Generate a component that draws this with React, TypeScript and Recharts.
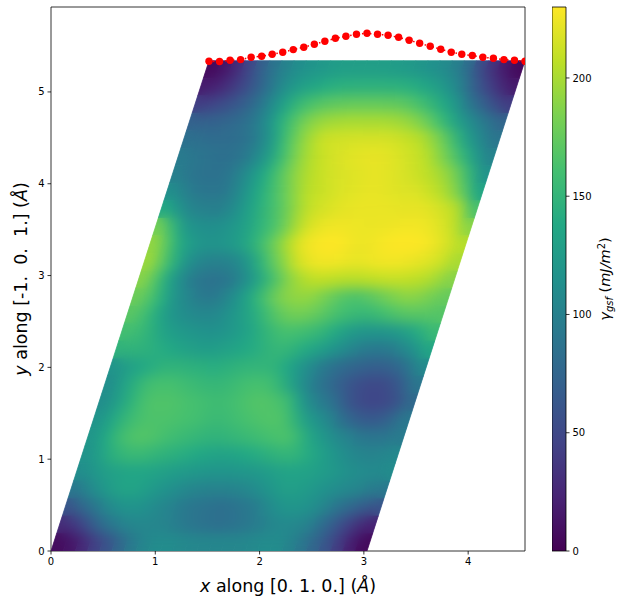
import React from "react";
import { ScatterChart, Scatter, XAxis, YAxis, ReferenceLine, BarChart, Bar } from "recharts";

const FONT = "DejaVu Sans";
const xTicks = [0, 1, 2, 3, 4];
const yTicks = [0, 1, 2, 3, 4, 5];
const cbarTicks = [0, 50, 100, 150, 200];
const xMax = 4.545;
const yMax = 5.925;
const gsfMax = 230;
const cellA = 3.03;
const cellB = 5.34;
const cellShift = 1.515;
const viridis = ["#440154", "#482475", "#414487", "#355f8d", "#2a788e", "#21918c", "#22a884", "#44bf70", "#7ad151", "#bddf26", "#fde725"];

// Stacking-fault energy: top row first, left to right along the slanted cell
const gsfRows = [
  [6,14,28,48,70,88,102,112,118,122,126,128,128,128,128,126,124,120,116,110,100,84,55,35,18,6],
  [18,24,36,50,65,85,105,120,130,137,142,145,146,146,146,146,145,142,136,128,115,98,70,50,32,18],
  [42,48,55,64,75,92,112,135,152,163,170,173,175,176,176,175,174,170,162,150,138,120,95,75,58,42],
  [72,72,74,78,84,95,115,142,165,182,192,197,199,200,200,200,199,196,190,178,162,142,122,105,90,76],
  [85,84,82,82,84,90,105,130,162,185,200,212,214,215,216,216,216,214,210,205,192,175,150,125,105,90],
  [95,90,87,85,86,92,108,128,155,180,198,208,214,218,220,222,222,220,216,212,205,190,172,150,125,103],
  [98,90,87,86,90,100,118,138,160,180,196,206,212,216,218,220,222,221,218,215,210,204,194,178,150,118],
  [112,100,92,90,90,100,118,138,155,172,190,205,210,214,218,220,222,222,220,218,218,212,205,192,170,135],
  [138,118,103,100,98,104,118,135,150,165,182,200,212,216,220,222,223,223,223,222,222,222,218,212,203,165],
  [180,150,122,115,112,115,122,132,146,160,176,198,215,222,225,225,224,224,224,225,226,226,224,218,210,190],
  [192,168,140,125,118,118,122,130,145,165,185,205,222,228,231,230,226,224,226,229,231,231,229,224,216,205],
  [195,172,145,118,105,100,100,105,120,145,170,190,212,222,226,226,224,222,224,226,226,225,222,218,212,200],
  [188,165,135,110,95,88,87,92,105,125,148,170,190,202,208,208,206,205,206,208,210,210,208,205,198,188],
  [178,165,142,118,105,95,92,100,115,135,155,175,188,192,192,185,175,167,165,170,178,185,190,188,182,175],
  [170,158,140,122,112,108,105,108,118,128,142,158,172,180,180,175,168,160,155,152,155,162,168,170,170,168],
  [160,155,145,132,125,120,117,115,118,125,133,145,155,162,160,156,150,140,128,120,118,118,122,130,142,155],
  [148,148,146,143,138,132,128,126,128,132,137,142,148,152,148,140,132,122,112,102,95,93,95,103,115,135],
  [118,128,136,143,148,148,146,145,143,145,148,150,150,148,138,122,108,95,85,78,74,70,70,75,88,108],
  [112,130,145,158,162,162,158,155,152,152,155,160,162,160,148,128,108,92,80,68,58,52,50,55,68,90],
  [112,128,145,160,166,166,165,162,160,157,158,162,166,168,165,158,130,105,95,82,62,52,48,50,58,78],
  [118,135,150,160,165,165,164,162,160,156,155,158,162,165,167,166,150,128,115,102,85,72,65,66,75,92],
  [120,138,155,165,168,165,160,156,153,150,148,150,153,156,160,163,165,150,132,120,108,100,92,90,90,95],
  [118,130,145,152,155,152,148,145,142,138,134,132,134,138,142,146,150,150,142,132,122,112,105,102,103,108],
  [112,120,128,132,135,135,132,128,125,122,120,118,118,120,121,125,130,133,132,130,125,120,113,110,108,110],
  [92,105,118,128,134,132,125,118,112,106,102,100,100,102,106,112,120,128,128,124,118,112,108,104,98,92],
  [62,78,92,106,115,118,115,108,102,96,90,88,85,86,90,95,105,115,120,118,112,100,88,78,68,60],
  [30,42,62,82,95,103,106,105,103,98,92,88,86,85,88,92,98,104,108,106,100,85,68,50,35,22],
  [8,14,28,45,60,78,95,105,110,110,108,106,105,105,105,106,108,110,110,102,90,75,60,40,20,6],
];

const pathX = [1.515,1.616,1.717,1.818,1.919,2.02,2.121,2.222,2.323,2.424,2.525,2.626,2.727,2.828,2.929,3.03,3.131,3.232,3.333,3.434,3.535,3.636,3.737,3.838,3.939,4.04,4.141,4.242,4.343,4.444,4.545];
const pathY = [5.334,5.331,5.345,5.352,5.378,5.388,5.41,5.432,5.461,5.487,5.519,5.552,5.584,5.606,5.628,5.639,5.628,5.617,5.595,5.563,5.53,5.497,5.465,5.432,5.41,5.396,5.378,5.367,5.352,5.345,5.334];

const CHART_W = 626;
const CHART_H = 605;
const M = { top: 7, right: 101, bottom: 0, left: 0 };
const Y_W = 51;
const X_H = 54;
const plotW = CHART_W - M.right - Y_W;
const plotH = CHART_H - M.top - X_H;

const rowCount = gsfRows.length;
const colCount = gsfRows[0].length;

const hexToRgb = (h: string) => [1, 3, 5].map((i) => parseInt(h.slice(i, i + 2), 16));
const colorOf = (value: number) => {
  const t = Math.max(0, Math.min(1, value / gsfMax)) * (viridis.length - 1);
  const i = Math.min(Math.floor(t), viridis.length - 2);
  const a = hexToRgb(viridis[i]);
  const b = hexToRgb(viridis[i + 1]);
  const f = t - i;
  return `rgb(${a.map((c, k) => Math.round(c + (b[k] - c) * f)).join(",")})`;
};

const heatCells = gsfRows.flatMap((row, k) =>
  row.map((value, i) => {
    const u = (i + 0.5) / colCount;
    const v = 1 - (k + 0.5) / rowCount;
    return { x: cellA * u + cellShift * v, y: cellB * v, value };
  })
);
const pathData = pathX.map((x, i) => ({ x, y: pathY[i] }));

const pxX = plotW / xMax;
const pxY = plotH / yMax;
const halfW = (cellA / colCount) * pxX * 0.5;
const halfH = (cellB / rowCount) * pxY * 0.5;
const halfS = (cellShift / rowCount) * pxX * 0.5;

// outline of the sampled cell, in the chart's pixel space, used to trim the softened layer
const toPx = (x: number, y: number) => `${Y_W + x * pxX},${M.top + plotH - y * pxY}`;
const cellOutline = [
  toPx(0, 0),
  toPx(cellA, 0),
  toPx(cellA + cellShift, cellB),
  toPx(cellShift, cellB),
].join(" ");

const HeatCell = (p: any) => {
  const { cx, cy, payload } = p;
  const c = colorOf(payload.value);
  const pts = [
    [cx - halfW + halfS, cy - halfH],
    [cx + halfW + halfS, cy - halfH],
    [cx + halfW - halfS, cy + halfH],
    [cx - halfW - halfS, cy + halfH],
  ]
    .map((q) => q.join(","))
    .join(" ");
  return <polygon points={pts} fill={c} stroke={c} strokeWidth={0.7} />;
};

const RedDot = (p: any) => <circle cx={p.cx} cy={p.cy} r={3.7} fill="#ff0000" />;

const XLabel = () => (
  <text x={288} y={592} textAnchor="middle" fontFamily={FONT} fontSize={17.5} fill="#000" xmlSpace="preserve">
    <tspan fontStyle="italic">x</tspan> along [0. 1. 0.] (<tspan fontStyle="italic">Å</tspan>)
  </text>
);

const YLabel = () => (
  <text transform="translate(27,279) rotate(-90)" textAnchor="middle" fontFamily={FONT} fontSize={17.5} fill="#000" xmlSpace="preserve">
    <tspan fontStyle="italic">y</tspan>{" along [-1.  0.  1.] ("}<tspan fontStyle="italic">Å</tspan>)
  </text>
);

const CbarLabel = () => (
  <text transform="translate(58,279) rotate(-90)" textAnchor="middle" fontFamily={FONT} fontSize={14.5} fill="#000">
    <tspan fontStyle="italic">γ</tspan>
    <tspan fontStyle="italic" fontSize={10} dy={3}>gsf</tspan>
    <tspan dy={-3}> (</tspan>
    <tspan fontStyle="italic">mJ/m</tspan>
    <tspan fontSize={10} dy={-5}>2</tspan>
    <tspan dy={5}>)</tspan>
  </text>
);

const tickStyle = { fill: "#000", fontSize: 10, fontFamily: FONT };
const axisStroke = { stroke: "#000", strokeWidth: 0.8 };

export default function App() {
  return (
    <div style={{ position: "absolute", left: 0, top: 0, width: CHART_W, height: CHART_H }}>
      <style>{`.heat-soft { filter: blur(6.5px); clip-path: url(#heatOutline); }`}</style>
      <div style={{ position: "absolute", left: 0, top: 0 }}>
        <ScatterChart width={CHART_W} height={CHART_H} margin={M}>
          <defs>
            <clipPath id="heatOutline" clipPathUnits="userSpaceOnUse">
              <polygon points={cellOutline} />
            </clipPath>
          </defs>
          <XAxis
            type="number"
            dataKey="x"
            domain={[0, xMax]}
            ticks={xTicks}
            height={X_H}
            allowDataOverflow
            tick={tickStyle}
            tickSize={3.5}
            tickMargin={3}
            axisLine={axisStroke}
            tickLine={axisStroke}
            label={XLabel as any}
          />
          <YAxis
            type="number"
            dataKey="y"
            domain={[0, yMax]}
            ticks={yTicks}
            width={Y_W}
            allowDataOverflow
            tick={tickStyle}
            tickSize={3.5}
            tickMargin={3}
            axisLine={axisStroke}
            tickLine={axisStroke}
            label={YLabel as any}
          />
          <Scatter data={heatCells} shape={HeatCell} isAnimationActive={false} />
          <Scatter data={heatCells} shape={HeatCell} className="heat-soft" isAnimationActive={false} />
          <Scatter
            data={pathData}
            shape={RedDot}
            line={{ stroke: "#ff0000", strokeWidth: 1.5, strokeDasharray: "1.5 2.5" }}
            isAnimationActive={false}
          />
          <ReferenceLine x={xMax} stroke="#000" strokeWidth={0.8} ifOverflow="visible" />
          <ReferenceLine y={yMax} stroke="#000" strokeWidth={0.8} ifOverflow="visible" />
        </ScatterChart>
      </div>
      <div style={{ position: "absolute", left: 552, top: 0 }}>
        <BarChart
          width={74}
          height={CHART_H}
          data={[{ name: "cbar", top: gsfMax }]}
          margin={{ top: 7, right: 0, bottom: X_H, left: 0 }}
          barCategoryGap={0}
        >
          <defs>
            <linearGradient id="viridisBar" x1="0" y1="1" x2="0" y2="0">
              {viridis.map((c, i) => (
                <stop key={c} offset={i / (viridis.length - 1)} stopColor={c} />
              ))}
            </linearGradient>
          </defs>
          <XAxis dataKey="name" hide />
          <YAxis
            orientation="right"
            type="number"
            domain={[0, gsfMax]}
            ticks={cbarTicks}
            width={60}
            tick={tickStyle}
            tickSize={3.5}
            tickMargin={3}
            axisLine={false}
            tickLine={axisStroke}
            label={CbarLabel as any}
          />
          <Bar dataKey="top" fill="url(#viridisBar)" stroke="#000" strokeWidth={0.8} isAnimationActive={false} />
        </BarChart>
      </div>
    </div>
  );
}
